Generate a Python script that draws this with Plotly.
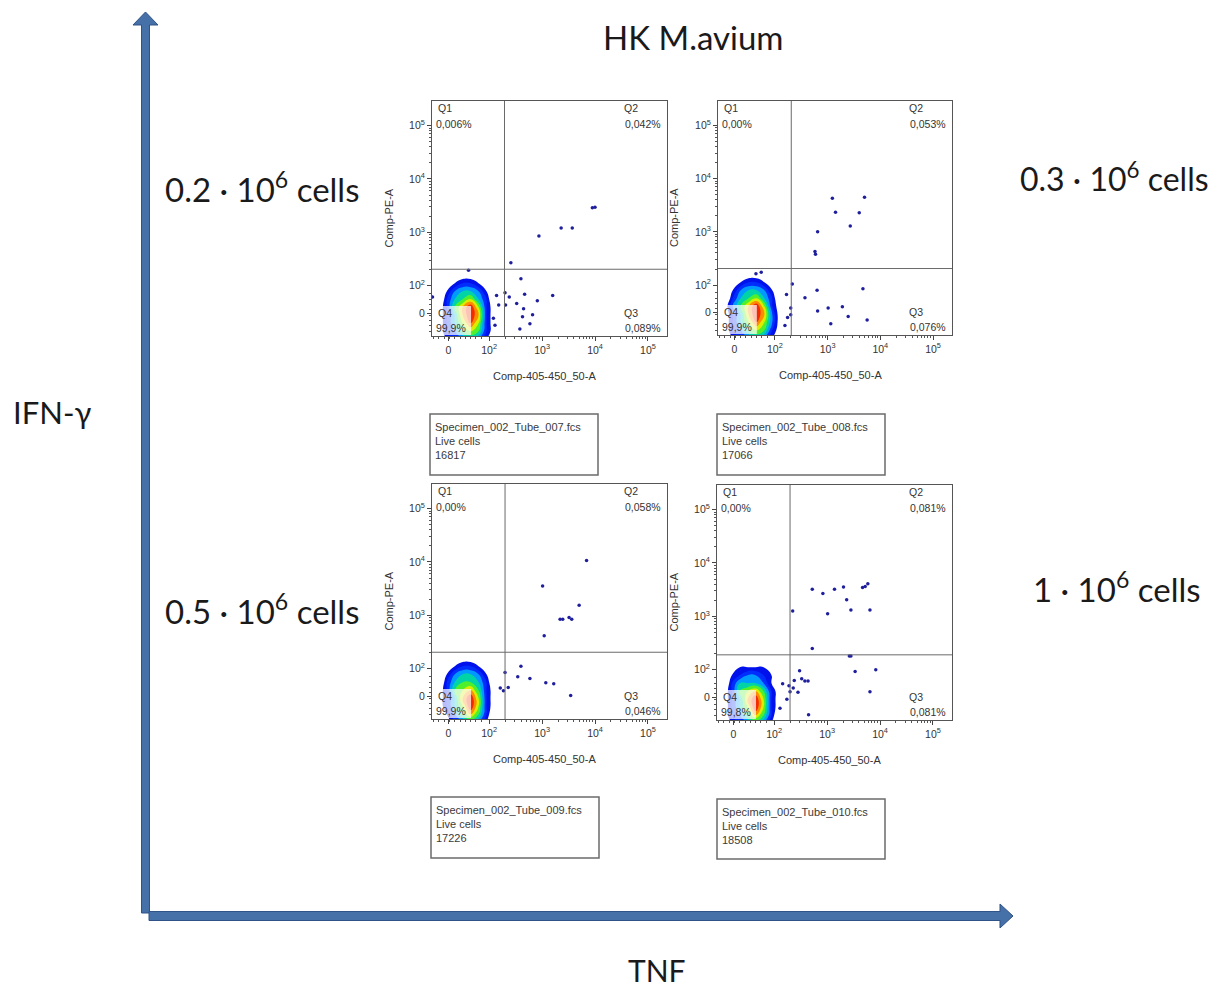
import math
import plotly.graph_objects as go

# ------------------------------------------------------------------ data
main_title = "HK M.avium"
y_big_label = "IFN-γ"
x_big_label = "TNF"
cell_labels = ["0.2 · 10<sup>6</sup> cells", "0.3 · 10<sup>6</sup> cells",
               "0.5 · 10<sup>6</sup> cells", "1 · 10<sup>6</sup> cells"]

specimen_files = ["Specimen_002_Tube_007.fcs", "Specimen_002_Tube_008.fcs",
                  "Specimen_002_Tube_009.fcs", "Specimen_002_Tube_010.fcs"]
gate_names = ["Live cells", "Live cells", "Live cells", "Live cells"]
live_counts = ["16817", "17066", "17226", "18508"]

q1_pct = ["0,006%", "0,00%", "0,00%", "0,00%"]
q2_pct = ["0,042%", "0,053%", "0,058%", "0,081%"]
q3_pct = ["0,089%", "0,076%", "0,046%", "0,081%"]
q4_pct = ["99,9%", "99,9%", "99,9%", "99,8%"]

x_axis_title = "Comp-405-450_50-A"
y_axis_title = "Comp-PE-A"
tick_text = ["0", "10<sup>2</sup>", "10<sup>3</sup>", "10<sup>4</sup>", "10<sup>5</sup>"]
x_tick_pos = [1.23, 2, 3, 4, 5]          # display (biexponential) units
y_tick_pos = [1.48, 2, 3, 4, 5]

# quadrant gate thresholds (display units)
gate_x = [2.29, 2.31, 2.30, 2.30]
gate_y = [2.31, 2.31, 2.31, 2.28]

# rare events outside the main population (display units)
ev1_x = [2.41, 2.94, 3.36, 3.57, 3.95, 4.00, 2.60, 2.67, 2.91, 3.20, 2.65, 2.82, 2.63, 2.77,
         2.58, 2.52, 2.38, 2.31, 2.30, 1.61, 0.93, 2.14, 2.18, 2.08, 2.11]
ev1_y = [2.43, 2.93, 3.08, 3.08, 3.46, 3.47, 2.13, 1.84, 1.72, 1.82, 1.57, 1.46, 1.42, 1.29,
         1.19, 1.67, 1.79, 1.64, 1.87, 2.29, 1.79, 1.82, 1.64, 1.39, 1.26]
ev2_x = [3.09, 3.70, 3.15, 3.60, 3.43, 2.81, 2.76, 2.77, 2.33, 2.57, 2.80, 3.67, 2.81, 3.01,
         3.28, 3.39, 3.06, 3.75, 2.22, 2.30, 2.30, 2.19, 1.74, 1.64, 2.24]
ev2_y = [3.63, 3.65, 3.37, 3.36, 3.11, 3.00, 2.63, 2.58, 2.02, 1.76, 1.90, 1.93, 1.51, 1.57,
         1.59, 1.41, 1.27, 1.34, 1.82, 1.57, 1.44, 1.24, 2.24, 2.21, 1.39]
ev3_x = [3.84, 3.01, 3.70, 3.34, 3.39, 3.51, 3.56, 3.04, 2.30, 2.60, 2.54, 2.77, 2.36, 2.27,
         2.21, 3.07, 3.22, 3.54]
ev3_y = [4.03, 3.55, 3.19, 2.93, 2.93, 2.96, 2.93, 2.62, 1.93, 2.05, 1.85, 1.82, 1.65, 1.59,
         1.64, 1.74, 1.72, 1.50]
ev4_x = [2.72, 2.92, 3.14, 3.31, 3.37, 3.67, 3.72, 3.77, 2.35, 3.01, 3.45, 3.81, 2.72, 3.42,
         3.45, 3.53, 3.92, 3.81, 2.48, 2.52, 2.58, 2.64, 2.38, 2.28, 2.36, 2.45, 2.30, 2.24,
         2.11, 2.65, 2.16]
ev4_y = [3.51, 3.43, 3.51, 3.55, 3.31, 3.54, 3.56, 3.61, 3.10, 3.05, 3.12, 3.12, 2.40, 2.26,
         2.26, 1.97, 2.00, 1.59, 1.98, 1.83, 1.79, 1.79, 1.80, 1.70, 1.66, 1.58, 1.59, 1.45,
         1.28, 1.16, 1.74]
events_x = [ev1_x, ev2_x, ev3_x, ev4_x]
events_y = [ev1_y, ev2_y, ev3_y, ev4_y]

# main population density
grid_x = [0.9, 1.05, 1.2, 1.35, 1.5, 1.65, 1.8, 1.95, 2.1, 2.25]
grid_y = [1.0, 1.15, 1.3, 1.45, 1.6, 1.75, 1.9, 2.05, 2.2, 2.35]
dens1 = [[0, 0, 2, 3, 4, 5, 4, 2, 0, 0],
         [0, 1, 3, 4, 6, 7, 6, 3, 1, 0],
         [0, 1, 3, 5, 7, 9, 7, 3, 1, 0],
         [0, 1, 3, 5, 8, 10, 8, 3, 1, 0],
         [0, 1, 3, 6, 8, 10, 7, 3, 1, 0],
         [0, 0, 3, 5, 6, 7, 5, 3, 0, 0],
         [0, 0, 2, 4, 5, 5, 4, 2, 0, 0],
         [0, 0, 1, 2, 3, 3, 2, 1, 0, 0],
         [0, 0, 0, 0, 1, 1, 0, 0, 0, 0],
         [0, 0, 0, 0, 0, 0, 0, 0, 0, 0]]
dens2 = [[0, 0, 2, 3, 4, 5, 4, 2, 0, 0],
         [0, 1, 3, 4, 6, 7, 6, 3, 1, 0],
         [0, 1, 3, 5, 7, 9, 7, 4, 1, 0],
         [0, 1, 3, 5, 8, 10, 8, 4, 1, 0],
         [0, 1, 4, 6, 8, 10, 7, 3, 1, 0],
         [0, 0, 3, 5, 6, 7, 5, 3, 0, 0],
         [0, 0, 2, 4, 5, 5, 4, 2, 0, 0],
         [0, 0, 1, 2, 3, 3, 2, 1, 0, 0],
         [0, 0, 0, 0, 1, 1, 0, 0, 0, 0],
         [0, 0, 0, 0, 0, 0, 0, 0, 0, 0]]
dens3 = [[0, 0, 1, 3, 4, 5, 4, 2, 0, 0],
         [0, 0, 2, 4, 6, 8, 6, 3, 0, 0],
         [0, 1, 3, 5, 7, 10, 7, 3, 1, 0],
         [0, 1, 3, 5, 8, 10, 7, 3, 1, 0],
         [0, 1, 3, 6, 7, 8, 6, 3, 1, 0],
         [0, 0, 3, 5, 6, 6, 5, 3, 0, 0],
         [0, 0, 2, 4, 5, 5, 4, 2, 0, 0],
         [0, 0, 1, 2, 3, 3, 2, 1, 0, 0],
         [0, 0, 0, 0, 1, 1, 0, 0, 0, 0],
         [0, 0, 0, 0, 0, 0, 0, 0, 0, 0]]
dens4 = [[0, 0, 2, 3, 4, 5, 4, 2, 0, 0],
         [0, 1, 3, 4, 6, 8, 6, 3, 0, 0],
         [0, 1, 3, 5, 7, 10, 7, 3, 1, 0],
         [0, 1, 3, 5, 8, 10, 7, 3, 1, 0],
         [0, 1, 3, 6, 7, 8, 6, 3, 1, 0],
         [0, 0, 3, 5, 5, 5, 4, 2, 0, 0],
         [0, 0, 2, 3, 4, 4, 3, 2, 0, 0],
         [0, 0, 1, 2, 2, 2, 2, 1, 0, 0],
         [0, 0, 0, 0, 1, 1, 0, 0, 0, 0],
         [0, 0, 0, 0, 0, 0, 0, 0, 0, 0]]
densities = [dens1, dens2, dens3, dens4]

# ------------------------------------------------------------------ layout constants
OFF = 8                      # default page margin around the plot div
W, H = 1220 - 2 * OFF, 998 - 2 * OFF
def px(x):
    return (x - OFF) / W
def py(y):
    return 1 - (y - OFF) / H

# panel frames in pixels of the target picture: (left, right, top, bottom)
panels = [(432, 667, 101, 336), (718, 952, 101, 335), (432, 667, 484, 719), (717, 952, 485, 720)]
info_boxes = [(430, 598, 414, 475), (717, 885, 414, 475), (431, 599, 797, 858), (717, 885, 799, 859)]
cell_label_pos = [(262, 187), (1114, 177), (262, 609), (1117, 587)]

X_RANGE = [0.92, 5.36]
Y_RANGE = [1.06, 5.46]

FLOW_FONT = "Liberation Sans"
BIG_FONT = "Lato"
ARROW_FILL = "#4670A8"
ARROW_LINE = "#2F5287"

jet = [[0.0, "rgba(255,255,255,0)"], [0.09, "rgba(255,255,255,0)"],
       [0.1, "rgb(0,0,225)"], [0.3, "rgb(0,50,255)"], [0.42, "rgb(0,190,255)"],
       [0.55, "rgb(0,225,110)"], [0.65, "rgb(130,250,0)"], [0.75, "rgb(255,230,0)"],
       [0.86, "rgb(255,110,0)"], [1.0, "rgb(235,0,0)"]]

# minor ticks: linear region + log decades
minor_vals = [0.95 + 0.1 * i for i in range(10)]
for dec in (2, 3, 4):
    for k in range(2, 10):
        minor_vals.append(dec + math.log10(k))

fig = go.Figure()
annotations = []
shapes = []

for i in range(4):
    xa = "x" if i == 0 else f"x{i+1}"
    ya = "y" if i == 0 else f"y{i+1}"
    l, r, t, b = panels[i]

    fig.add_trace(go.Contour(
        x=grid_x, y=grid_y, z=densities[i], xaxis=xa, yaxis=ya,
        colorscale=jet, zmin=0, zmax=10, zauto=False, showscale=False,
        autocontour=False,
        contours=dict(start=1, end=10, size=1, coloring="fill", showlines=False),
        line=dict(width=0, smoothing=1.3), hoverinfo="skip"))

    fig.add_trace(go.Scatter(
        x=events_x[i], y=events_y[i], xaxis=xa, yaxis=ya, mode="markers",
        marker=dict(size=3.5, color="#1f1f9e"), hoverinfo="skip", showlegend=False))

    axkey_x = "xaxis" if i == 0 else f"xaxis{i+1}"
    axkey_y = "yaxis" if i == 0 else f"yaxis{i+1}"
    common = dict(showline=True, mirror=True, linecolor="#555555", linewidth=1,
                  showgrid=False, zeroline=False, ticks="outside", ticklen=4,
                  tickcolor="#444444", tickwidth=1,
                  tickfont=dict(family=FLOW_FONT, size=10.5, color="#333333"),
                  tickmode="array", ticktext=tick_text, fixedrange=True)
    fig.update_layout(**{
        axkey_x: dict(common, domain=[px(l), px(r)], anchor=ya, range=X_RANGE,
                      tickvals=x_tick_pos,
                      minor=dict(ticks="outside", ticklen=2, tickcolor="#555555",
                                 tickmode="array", tickvals=minor_vals)),
        axkey_y: dict(common, domain=[py(b), py(t)], anchor=xa, range=Y_RANGE,
                      tickvals=y_tick_pos,
                      minor=dict(ticks="outside", ticklen=2, tickcolor="#555555",
                                 tickmode="array", tickvals=minor_vals)),
    })

    # quadrant gates
    shapes.append(dict(type="line", xref=xa, yref=f"{ya} domain", x0=gate_x[i], x1=gate_x[i],
                       y0=0, y1=1, line=dict(color="#6a6a6a", width=1)))
    shapes.append(dict(type="line", xref=f"{xa} domain", yref=ya, x0=0, x1=1,
                       y0=gate_y[i], y1=gate_y[i], line=dict(color="#6a6a6a", width=1)))
    # Q4 label background
    shapes.append(dict(type="rect", xref=f"{xa} domain", yref=f"{ya} domain",
                       x0=0.004, x1=0.166, y0=0.004, y1=0.128, layer="above",
                       fillcolor="rgba(255,255,255,0.72)", line=dict(width=0)))

    fnt = dict(family=FLOW_FONT, size=10.5, color="#333333")
    def qlab(text, x, y, xanchor):
        annotations.append(dict(text=text, xref="paper", yref="paper", x=px(x), y=py(y),
                                xanchor=xanchor, yanchor="middle", showarrow=False, font=fnt))
    qlab("Q1", l + 4, t + 7, "left")
    qlab(q1_pct[i], l + 2, t + 23, "left")
    qlab("Q2", r - 45, t + 7, "left")
    qlab(q2_pct[i], r - 4, t + 23, "right")
    qlab("Q4", l + 4, b - 23, "left")
    qlab(q4_pct[i], l + 2, b - 8, "left")
    qlab("Q3", r - 45, b - 23, "left")
    qlab(q3_pct[i], r - 4, b - 8, "right")

    # axis titles
    tfnt = dict(family=FLOW_FONT, size=11, color="#333333")
    annotations.append(dict(text=x_axis_title, xref="paper", yref="paper",
                            x=px((l + r) / 2 - 5), y=py(b + 40), xanchor="center",
                            yanchor="middle", showarrow=False, font=tfnt))
    annotations.append(dict(text=y_axis_title, xref="paper", yref="paper",
                            x=px(l - 44), y=py((t + b) / 2), xanchor="center",
                            yanchor="middle", textangle=-90, showarrow=False, font=tfnt))

    # info box
    bl, br, bt, bb = info_boxes[i]
    shapes.append(dict(type="rect", xref="paper", yref="paper", x0=px(bl), x1=px(br),
                       y0=py(bb), y1=py(bt), line=dict(color="#6b6b6b", width=1.5),
                       fillcolor="white"))
    for j, txt in enumerate([specimen_files[i], gate_names[i], live_counts[i]]):
        annotations.append(dict(text=txt, xref="paper", yref="paper", x=px(bl + 3),
                                y=py(bt + 13 + 14 * j), xanchor="left", yanchor="middle",
                                showarrow=False, font=dict(family=FLOW_FONT, size=11,
                                                           color="#3a3a3a")))

    # cell number label
    cx, cy = cell_label_pos[i]
    annotations.append(dict(text=cell_labels[i], xref="paper", yref="paper", x=px(cx),
                            y=py(cy), xanchor="center", yanchor="middle", showarrow=False,
                            font=dict(family=BIG_FONT, size=32 if i == 1 else 33,
                                      color="#1a1a1a")))

# big labels
annotations.append(dict(text=main_title, xref="paper", yref="paper", x=px(693), y=py(37),
                        xanchor="center", yanchor="middle", showarrow=False,
                        font=dict(family=BIG_FONT, size=33, color="#1a1a1a")))
annotations.append(dict(text=y_big_label, xref="paper", yref="paper", x=px(52), y=py(412),
                        xanchor="center", yanchor="middle", showarrow=False,
                        font=dict(family=BIG_FONT, size=31, color="#1a1a1a")))
annotations.append(dict(text=x_big_label, xref="paper", yref="paper", x=px(657), y=py(990),
                        xanchor="center", yanchor="bottom", showarrow=False,
                        font=dict(family=BIG_FONT, size=30, color="#1a1a1a")))

# big axis arrows (vertical: IFN-γ, horizontal: TNF)
def path(points):
    return "M " + " L ".join(f"{px(x):.5f},{py(y):.5f}" for x, y in points) + " Z"

shapes.append(dict(type="path", xref="paper", yref="paper",
                   path=path([(141.5, 913), (141.5, 25), (133, 25), (145.5, 12), (158, 25),
                              (149.5, 25), (149.5, 913)]),
                   fillcolor=ARROW_FILL, line=dict(color=ARROW_LINE, width=1)))
shapes.append(dict(type="path", xref="paper", yref="paper",
                   path=path([(149, 911.5), (1000, 911.5), (1000, 904), (1013, 916),
                              (1000, 928), (1000, 920.5), (149, 920.5)]),
                   fillcolor=ARROW_FILL, line=dict(color=ARROW_LINE, width=1)))

fig.update_layout(width=W, height=H, margin=dict(l=0, r=0, t=0, b=0),
                  paper_bgcolor="white", plot_bgcolor="white", showlegend=False,
                  annotations=annotations, shapes=shapes)

fig.write_html("out.html")
